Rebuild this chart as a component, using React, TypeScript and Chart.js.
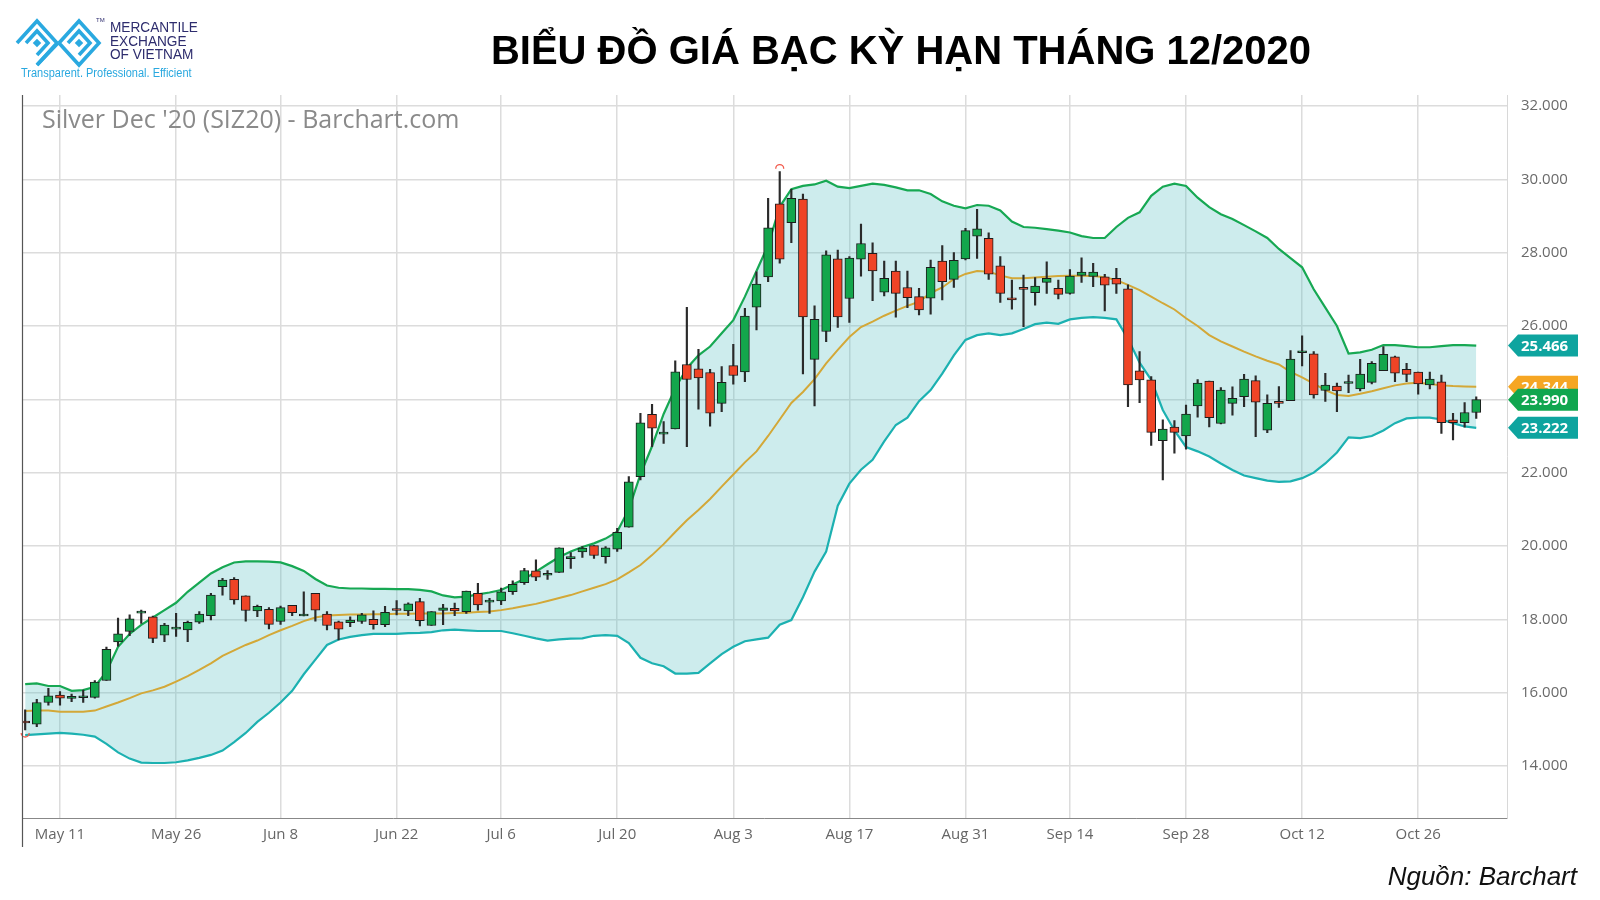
import React, { useEffect, useRef } from 'react';
import { Chart, registerables } from 'chart.js';

Chart.register(...registerables);

const dates = [
  'May 6', 'May 7', 'May 8', 'May 11', 'May 12', 'May 13', 'May 14', 'May 15', 'May 18', 'May 19',
  'May 20', 'May 21', 'May 22', 'May 26', 'May 27', 'May 28', 'May 29', 'Jun 1', 'Jun 2', 'Jun 3',
  'Jun 4', 'Jun 5', 'Jun 8', 'Jun 9', 'Jun 10', 'Jun 11', 'Jun 12', 'Jun 15', 'Jun 16', 'Jun 17',
  'Jun 18', 'Jun 19', 'Jun 22', 'Jun 23', 'Jun 24', 'Jun 25', 'Jun 26', 'Jun 29', 'Jun 30', 'Jul 1',
  'Jul 2', 'Jul 6', 'Jul 7', 'Jul 8', 'Jul 9', 'Jul 10', 'Jul 13', 'Jul 14', 'Jul 15', 'Jul 16',
  'Jul 17', 'Jul 20', 'Jul 21', 'Jul 22', 'Jul 23', 'Jul 24', 'Jul 27', 'Jul 28', 'Jul 29', 'Jul 30',
  'Jul 31', 'Aug 3', 'Aug 4', 'Aug 5', 'Aug 6', 'Aug 7', 'Aug 10', 'Aug 11', 'Aug 12', 'Aug 13',
  'Aug 14', 'Aug 17', 'Aug 18', 'Aug 19', 'Aug 20', 'Aug 21', 'Aug 24', 'Aug 25', 'Aug 26', 'Aug 27',
  'Aug 28', 'Aug 31', 'Sep 1', 'Sep 2', 'Sep 3', 'Sep 4', 'Sep 8', 'Sep 9', 'Sep 10', 'Sep 11',
  'Sep 14', 'Sep 15', 'Sep 16', 'Sep 17', 'Sep 18', 'Sep 21', 'Sep 22', 'Sep 23', 'Sep 24', 'Sep 25',
  'Sep 28', 'Sep 29', 'Sep 30', 'Oct 1', 'Oct 2', 'Oct 5', 'Oct 6', 'Oct 7', 'Oct 8', 'Oct 9',
  'Oct 12', 'Oct 13', 'Oct 14', 'Oct 15', 'Oct 16', 'Oct 19', 'Oct 20', 'Oct 21', 'Oct 22', 'Oct 23',
  'Oct 26', 'Oct 27', 'Oct 28', 'Oct 29', 'Oct 30', 'Nov 2',
];

const tickDates = ['May 11', 'May 26', 'Jun 8', 'Jun 22', 'Jul 6', 'Jul 20', 'Aug 3', 'Aug 17', 'Aug 31', 'Sep 14', 'Sep 28', 'Oct 12', 'Oct 26'];
const yTickValues = [14, 16, 18, 20, 22, 24, 26, 28, 30, 32];

const openValues = [
  15.22, 15.14, 15.73, 15.93, 15.84, 15.86, 15.87, 16.33, 17.38, 17.67,
  18.17, 18.07, 17.57, 17.73, 17.71, 17.92, 18.10, 18.89, 19.09, 18.64,
  18.23, 18.27, 17.94, 18.38, 18.09, 18.71, 18.14, 17.93, 17.91, 17.94,
  18.00, 17.85, 18.29, 18.23, 18.48, 17.83, 18.24, 18.30, 18.21, 18.71,
  18.47, 18.50, 18.75, 19.00, 19.32, 19.20, 19.28, 19.65, 19.84, 20.01,
  19.71, 19.91, 20.51, 21.89, 23.59, 23.05, 23.19, 24.95, 24.83, 24.73,
  23.89, 24.92, 24.75, 26.51, 27.34, 29.33, 28.82, 29.46, 25.09, 25.85,
  27.83, 26.75, 27.82, 27.98, 26.92, 27.50, 27.05, 26.80, 26.76, 27.77,
  27.27, 27.83, 28.45, 28.39, 27.64, 26.77, 27.04, 26.91, 27.19, 27.03,
  26.89, 27.38, 27.35, 27.34, 27.30, 27.01, 24.78, 24.53, 22.87, 23.24,
  23.00, 23.82, 24.50, 23.34, 23.89, 24.07, 24.51, 23.16, 23.94, 23.96,
  25.27, 25.24, 24.24, 24.36, 24.43, 24.28, 24.46, 24.78, 25.16, 24.82,
  24.74, 24.39, 24.48, 23.44, 23.36, 23.64,
];
const highValues = [
  15.53, 15.82, 16.12, 16.03, 15.96, 16.07, 16.33, 17.24, 18.03, 18.12,
  18.25, 18.09, 17.89, 18.16, 17.95, 18.21, 18.71, 19.12, 19.14, 18.64,
  18.39, 18.32, 18.36, 18.38, 18.75, 18.71, 18.21, 17.95, 18.07, 18.16,
  18.23, 18.35, 18.51, 18.45, 18.57, 18.21, 18.41, 18.44, 18.77, 18.98,
  18.57, 18.85, 19.05, 19.39, 19.62, 19.33, 19.95, 19.82, 19.98, 20.01,
  19.98, 20.48, 21.89, 23.62, 23.86, 23.39, 25.05, 26.51, 25.36, 24.82,
  24.89, 25.50, 26.48, 27.48, 29.48, 30.21, 29.73, 29.60, 26.55, 28.05,
  28.07, 27.89, 28.78, 28.27, 27.77, 27.77, 27.50, 27.03, 27.80, 28.19,
  28.00, 28.66, 29.18, 28.54, 27.89, 27.25, 27.39, 27.32, 27.75, 27.25,
  27.54, 27.86, 27.71, 27.41, 27.57, 27.12, 25.30, 24.62, 23.44, 23.42,
  23.84, 24.54, 24.50, 24.32, 24.34, 24.68, 24.64, 24.12, 24.35, 25.33,
  25.73, 25.30, 24.71, 24.44, 24.66, 25.09, 25.03, 25.44, 25.18, 24.98,
  24.74, 24.74, 24.66, 23.62, 23.91, 24.07,
];
const lowValues = [
  14.98, 15.07, 15.66, 15.66, 15.75, 15.73, 15.85, 16.33, 17.27, 17.55,
  17.89, 17.36, 17.39, 17.53, 17.39, 17.89, 17.98, 18.66, 18.41, 17.95,
  18.07, 17.74, 17.86, 18.10, 18.09, 17.95, 17.71, 17.44, 17.80, 17.89,
  17.73, 17.80, 18.12, 18.10, 17.82, 17.83, 17.85, 18.10, 18.16, 18.25,
  18.16, 18.40, 18.68, 18.95, 19.05, 19.09, 19.28, 19.39, 19.69, 19.66,
  19.53, 19.85, 20.51, 21.80, 22.71, 22.80, 23.19, 22.71, 23.73, 23.27,
  23.66, 24.41, 24.48, 25.89, 27.21, 27.71, 28.27, 24.69, 23.82, 25.57,
  25.96, 26.10, 27.36, 26.69, 26.82, 26.24, 26.50, 26.30, 26.32, 26.71,
  27.05, 27.80, 27.84, 27.27, 26.64, 26.46, 25.98, 26.57, 26.89, 26.74,
  26.87, 27.19, 27.07, 26.41, 26.89, 23.80, 23.91, 22.74, 21.80, 22.53,
  22.64, 23.51, 23.25, 23.33, 23.57, 23.80, 22.98, 23.09, 23.78, 23.96,
  24.91, 24.03, 23.94, 23.66, 24.18, 24.23, 24.42, 24.78, 24.48, 24.48,
  24.14, 24.28, 23.07, 22.89, 23.24, 23.48,
];
const closeValues = [
  15.17, 15.73, 15.91, 15.85, 15.90, 15.88, 16.29, 17.18, 17.60, 18.01,
  18.19, 17.48, 17.84, 17.75, 17.92, 18.14, 18.66, 19.07, 18.53, 18.24,
  18.35, 17.86, 18.32, 18.18, 18.14, 18.25, 17.83, 17.73, 17.98, 18.12,
  17.85, 18.19, 18.24, 18.42, 17.96, 18.21, 18.31, 18.23, 18.77, 18.39,
  18.49, 18.75, 18.95, 19.33, 19.15, 19.22, 19.95, 19.71, 19.94, 19.74,
  19.95, 20.37, 21.75, 23.36, 23.21, 23.09, 24.75, 24.54, 24.58, 23.62,
  24.46, 24.65, 26.27, 27.14, 28.68, 27.82, 29.48, 26.25, 26.18, 27.94,
  26.25, 27.85, 28.25, 27.50, 27.30, 26.89, 26.77, 26.44, 27.60, 27.21,
  27.79, 28.60, 28.65, 27.41, 26.89, 26.71, 27.00, 27.09, 27.30, 26.86,
  27.36, 27.47, 27.47, 27.11, 27.14, 24.39, 24.53, 23.10, 23.19, 23.10,
  23.60, 24.44, 23.50, 24.25, 24.03, 24.55, 23.92, 23.89, 23.89, 25.10,
  25.29, 24.12, 24.39, 24.23, 24.45, 24.69, 24.98, 25.23, 24.71, 24.68,
  24.42, 24.55, 23.36, 23.36, 23.64, 23.99,
];

const upperBand = [
  16.23, 16.25, 16.18, 16.18, 16.05, 16.07, 16.16, 16.57, 17.25, 17.60,
  17.85, 18.05, 18.25, 18.45, 18.75, 19.00, 19.25, 19.42, 19.55, 19.58,
  19.58, 19.57, 19.55, 19.45, 19.32, 19.10, 18.92, 18.86, 18.84, 18.84,
  18.83, 18.83, 18.82, 18.82, 18.80, 18.76, 18.65, 18.60, 18.62, 18.68,
  18.73, 18.80, 18.95, 19.10, 19.30, 19.50, 19.70, 19.85, 19.97, 20.07,
  20.20, 20.39, 21.00, 21.95, 22.72, 23.60, 24.30, 24.85, 25.20, 25.44,
  25.80, 26.16, 26.80, 27.50, 28.20, 29.25, 29.73, 29.82, 29.86, 29.96,
  29.80, 29.76, 29.82, 29.88, 29.85, 29.78, 29.70, 29.70, 29.60, 29.40,
  29.28, 29.21, 29.30, 29.28, 29.15, 28.85, 28.70, 28.68, 28.64, 28.60,
  28.55, 28.45, 28.40, 28.40, 28.70, 28.95, 29.10, 29.55, 29.80, 29.88,
  29.82, 29.50, 29.24, 29.05, 28.92, 28.75, 28.58, 28.40, 28.10, 27.85,
  27.60, 27.00, 26.50, 26.00, 25.25, 25.28, 25.35, 25.48, 25.48, 25.45,
  25.42, 25.42, 25.45, 25.48, 25.48, 25.466,
];
const middleBand = [
  15.50, 15.51, 15.51, 15.48, 15.48, 15.48, 15.51, 15.62, 15.73, 15.85,
  15.98, 16.06, 16.16, 16.30, 16.45, 16.62, 16.80, 17.00, 17.15, 17.30,
  17.42, 17.57, 17.70, 17.82, 17.95, 18.05, 18.10, 18.12, 18.13, 18.13,
  18.14, 18.14, 18.15, 18.15, 18.16, 18.16, 18.16, 18.17, 18.18, 18.20,
  18.21, 18.25, 18.30, 18.36, 18.42, 18.50, 18.58, 18.66, 18.76, 18.86,
  18.96, 19.09, 19.28, 19.48, 19.75, 20.05, 20.38, 20.70, 20.98, 21.28,
  21.62, 21.95, 22.28, 22.58, 23.00, 23.45, 23.90, 24.20, 24.55, 24.98,
  25.35, 25.70, 25.97, 26.12, 26.28, 26.42, 26.55, 26.66, 26.90, 27.05,
  27.28, 27.42, 27.50, 27.48, 27.38, 27.30, 27.30, 27.32, 27.34, 27.36,
  27.37, 27.37, 27.36, 27.33, 27.25, 27.12, 26.98, 26.80, 26.62, 26.45,
  26.21, 26.00, 25.75, 25.58, 25.44, 25.30, 25.17, 25.05, 24.95, 24.75,
  24.60, 24.43, 24.25, 24.12, 24.09, 24.15, 24.22, 24.30, 24.38, 24.43,
  24.45, 24.42, 24.38, 24.36, 24.35, 24.344,
];
const lowerBand = [
  14.84, 14.86, 14.88, 14.90, 14.88, 14.85, 14.80, 14.60, 14.37, 14.20,
  14.09, 14.08, 14.08, 14.10, 14.15, 14.22, 14.30, 14.42, 14.65, 14.90,
  15.20, 15.45, 15.73, 16.05, 16.50, 16.90, 17.30, 17.45, 17.52, 17.57,
  17.60, 17.60, 17.60, 17.62, 17.63, 17.65, 17.70, 17.72, 17.70, 17.68,
  17.68, 17.68, 17.62, 17.55, 17.48, 17.42, 17.45, 17.47, 17.48, 17.55,
  17.57, 17.55, 17.35, 16.95, 16.80, 16.72, 16.52, 16.52, 16.54, 16.80,
  17.05, 17.25, 17.40, 17.45, 17.50, 17.85, 17.98, 18.60, 19.30, 19.85,
  21.10, 21.70, 22.08, 22.35, 22.85, 23.30, 23.50, 23.95, 24.25, 24.70,
  25.20, 25.62, 25.75, 25.80, 25.75, 25.80, 25.92, 26.05, 26.09, 26.06,
  26.18, 26.22, 26.24, 26.22, 26.18, 25.65, 25.00, 24.53, 23.71, 23.15,
  22.70, 22.58, 22.44, 22.25, 22.07, 21.92, 21.85, 21.78, 21.75, 21.76,
  21.85, 22.00, 22.25, 22.55, 22.96, 22.94, 23.00, 23.15, 23.35, 23.48,
  23.50, 23.50, 23.45, 23.35, 23.26, 23.222,
];

const UP = '#13a64c';
const DOWN = '#ef4426';

const overlayPlugin = {
  id: 'overlay',
  afterDatasetsDraw(chart: any) {
    const { ctx, scales } = chart;
    const x = scales.x;
    const y = scales.y;
    let hi = 0;
    let lo = 0;
    highValues.forEach((v, i) => { if (v > highValues[hi]) hi = i; });
    lowValues.forEach((v, i) => { if (v < lowValues[lo]) lo = i; });
    ctx.save();
    ctx.strokeStyle = '#f2594b';
    ctx.lineWidth = 1.3;
    ctx.beginPath();
    ctx.arc(x.getPixelForValue(hi), y.getPixelForValue(highValues[hi]) - 3, 4, Math.PI, 2 * Math.PI);
    ctx.stroke();
    ctx.beginPath();
    ctx.arc(x.getPixelForValue(lo), y.getPixelForValue(lowValues[lo]) + 3, 4, 0, Math.PI);
    ctx.stroke();
    ctx.restore();
  },
  afterDraw(chart: any) {
    const { ctx, chartArea, scales } = chart;
    const y = scales.y;
    ctx.save();
    ctx.strokeStyle = '#555';
    ctx.lineWidth = 1.2;
    ctx.beginPath();
    ctx.moveTo(chartArea.left, chartArea.top);
    ctx.lineTo(chartArea.left, chartArea.bottom + 29);
    ctx.stroke();

    const tags: [number, string][] = [
      [upperBand[upperBand.length - 1], '#0ea49f'],
      [middleBand[middleBand.length - 1], '#f6a623'],
      [closeValues[closeValues.length - 1], '#10a64f'],
      [lowerBand[lowerBand.length - 1], '#0ea49f'],
    ];
    const left = chartArea.right + 1;
    for (const [v, color] of tags) {
      const py = y.getPixelForValue(v);
      ctx.fillStyle = color;
      ctx.beginPath();
      ctx.moveTo(left, py);
      ctx.lineTo(left + 10, py - 11);
      ctx.lineTo(left + 70, py - 11);
      ctx.lineTo(left + 70, py + 11);
      ctx.lineTo(left + 10, py + 11);
      ctx.closePath();
      ctx.fill();
      ctx.fillStyle = '#ffffff';
      ctx.font = "bold 15px 'Open Sans', sans-serif";
      ctx.textAlign = 'left';
      ctx.textBaseline = 'middle';
      ctx.fillText(v.toFixed(3), left + 13, py + 1);
    }
    ctx.restore();
  },
};

export default function App() {
  const ref = useRef<HTMLCanvasElement>(null);

  useEffect(() => {
    if (!ref.current) return;
    Chart.defaults.font.family = "'Open Sans', sans-serif";
    const idx = dates.map((_, i) => i);
    const line = (arr: number[]) => arr.map((v, i) => ({ x: i, y: v }));
    const bodies = idx.map((i) => ({ x: i, y: [openValues[i], closeValues[i]] }));
    const wicks = idx.map((i) => ({ x: i, y: [lowValues[i], highValues[i]] }));
    const bodyColors = idx.map((i) => (closeValues[i] >= openValues[i] ? UP : DOWN));

    const chart = new Chart(ref.current, {
      type: 'bar',
      data: {
        datasets: [
          {
            type: 'line',
            label: 'Upper',
            data: line(upperBand),
            borderColor: '#17a853',
            borderWidth: 2.2,
            pointRadius: 0,
            tension: 0,
            fill: 2,
            backgroundColor: 'rgba(88,192,196,0.30)',
            order: 12,
          } as any,
          {
            type: 'line',
            label: 'Middle',
            data: line(middleBand),
            borderColor: '#d3a838',
            borderWidth: 2,
            pointRadius: 0,
            tension: 0,
            fill: false,
            order: 10,
          } as any,
          {
            type: 'line',
            label: 'Lower',
            data: line(lowerBand),
            borderColor: '#1cb1b1',
            borderWidth: 2.2,
            pointRadius: 0,
            tension: 0,
            fill: false,
            order: 11,
          } as any,
          {
            label: 'Wicks',
            data: wicks as any,
            backgroundColor: '#2a2a2a',
            barThickness: 1.5,
            grouped: false,
            order: 2,
          } as any,
          {
            label: 'Bodies',
            data: bodies as any,
            backgroundColor: bodyColors,
            borderColor: '#1c1c1c',
            borderWidth: 1,
            borderSkipped: false,
            barThickness: 9,
            minBarLength: 2,
            grouped: false,
            order: 1,
          } as any,
        ],
      },
      options: {
        responsive: false,
        animation: false,
        layout: { padding: { left: 22.5, top: 95, right: 0, bottom: 0 } },
        plugins: { legend: { display: false }, tooltip: { enabled: false } },
        scales: {
          x: {
            type: 'linear',
            min: -0.23,
            max: 127.65,
            offset: false,
            afterBuildTicks: (s: any) => {
              s.ticks = tickDates.map((d) => ({ value: dates.indexOf(d) }));
            },
            afterFit: (s: any) => { s.height = 82; },
            ticks: {
              autoSkip: false,
              maxRotation: 0,
              color: '#666',
              font: { size: 15 },
              padding: 8,
              callback: (v: any) => dates[v as number],
            },
            grid: { color: '#dcdcdc', lineWidth: 1.5, drawTicks: false, offset: false },
            border: { display: true, color: '#888', width: 1 },
          },
          y: {
            position: 'right',
            min: 12.58,
            max: 32.3,
            afterBuildTicks: (s: any) => {
              s.ticks = yTickValues.map((v) => ({ value: v }));
            },
            afterFit: (s: any) => { s.width = 93; },
            ticks: {
              color: '#6a6a6a',
              font: { size: 15 },
              padding: 14,
              callback: (v: any) => Number(v).toFixed(3),
            },
            grid: { color: '#dcdcdc', lineWidth: 1.5, drawTicks: false },
            border: { display: true, color: '#d8d8d8', width: 1 },
          },
        },
      } as any,
      plugins: [overlayPlugin],
    });
    return () => chart.destroy();
  }, []);

  return (
    <div style={{ position: 'absolute', left: 0, top: 0, width: 1600, height: 900, background: '#fff', overflow: 'hidden' }}>
      <canvas ref={ref} width={1600} height={900} style={{ position: 'absolute', left: 0, top: 0, width: 1600, height: 900 }} />

      <svg width={90} height={54} viewBox="0 0 90 54" style={{ position: 'absolute', left: 14, top: 16 }}>
        <g fill="none" stroke="#2aa9e0" strokeWidth={3.6} strokeLinejoin="miter">
          <polyline points="3,27 23,5 43,27 23,49" />
          <polyline points="12,27 23,15 34,27 23,39" />
          <polyline points="45,27 65,5 85,27 65,49 45,27" />
          <polyline points="54,27 65,15 76,27 65,39" />
          <polyline points="23,49 44,27" />
        </g>
        <rect x={20} y={24} width={6} height={6} fill="#2aa9e0" transform="rotate(45 23 27)" />
        <rect x={62} y={24} width={6} height={6} fill="#2aa9e0" transform="rotate(45 65 27)" />
      </svg>
      <div style={{ position: 'absolute', left: 96, top: 17, fontFamily: "'Liberation Sans', Arial, sans-serif", fontSize: 6, color: '#2e2d6e' }}>TM</div>
      <div
        style={{
          position: 'absolute', left: 110, top: 20, fontFamily: "'Liberation Sans', Arial, sans-serif",
          fontSize: 15.5, lineHeight: '13.5px', color: '#2e2d6e', transform: 'scaleX(0.88)', transformOrigin: 'left top', whiteSpace: 'nowrap',
        }}
      >
        <div>MERCANTILE</div>
        <div>EXCHANGE</div>
        <div>OF VIETNAM</div>
      </div>
      <div
        style={{
          position: 'absolute', left: 21, top: 66, fontFamily: "'Liberation Sans', Arial, sans-serif",
          fontSize: 12.5, color: '#29a8df', transform: 'scaleX(0.88)', transformOrigin: 'left top', whiteSpace: 'nowrap',
        }}
      >
        Transparent. Professional. Efficient
      </div>

      <div
        style={{
          position: 'absolute', left: 901, top: 30, transform: 'translateX(-50%)', whiteSpace: 'nowrap',
          fontFamily: "'Liberation Sans', Arial, sans-serif", fontWeight: 'bold', fontSize: 40, lineHeight: '40px', color: '#000',
        }}
      >
        BIỂU ĐỒ GIÁ BẠC KỲ HẠN THÁNG 12/2020
      </div>

      <div
        style={{
          position: 'absolute', left: 42, top: 106, whiteSpace: 'nowrap',
          fontFamily: "'Open Sans', sans-serif", fontSize: 25, lineHeight: '25px', color: '#8a8a8a',
        }}
      >
        Silver Dec '20 (SIZ20) - Barchart.com
      </div>

      <div
        style={{
          position: 'absolute', right: 23, top: 863, whiteSpace: 'nowrap',
          fontFamily: "'Liberation Sans', Arial, sans-serif", fontStyle: 'italic', fontSize: 26, lineHeight: '26px', color: '#111',
        }}
      >
        Nguồn: Barchart
      </div>
    </div>
  );
}
